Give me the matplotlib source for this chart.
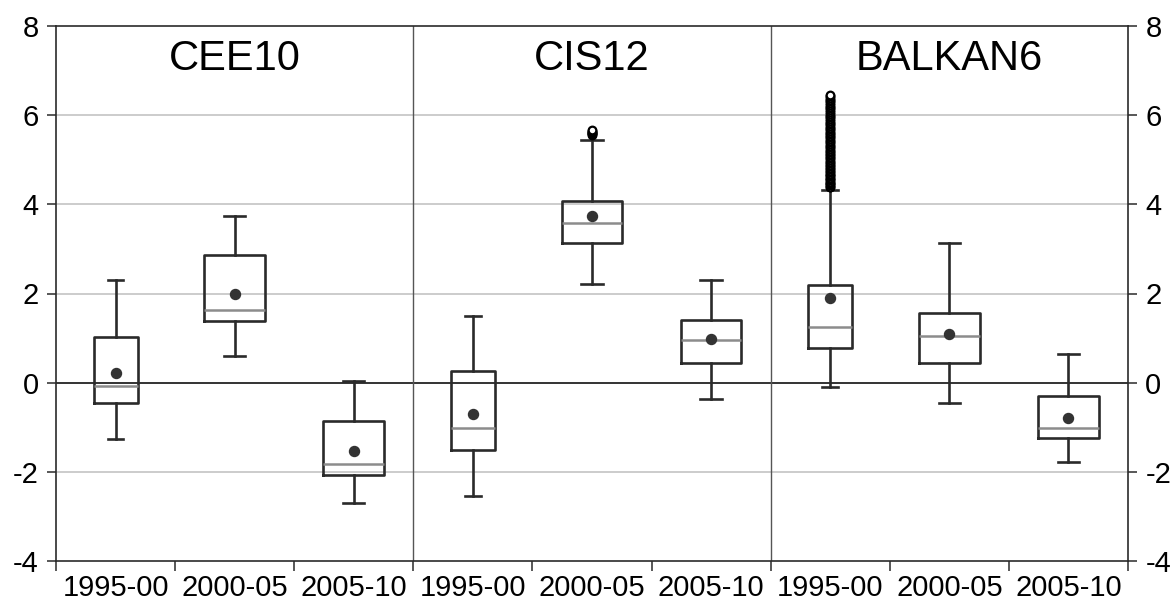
"""
Box plots of three country groups over three sub-periods (EViews style).
"""

import matplotlib
matplotlib.use("Agg")
import matplotlib.pyplot as plt

# ── Data ───────────────────────────────────────────────────────────────────────
GROUPS  = ["CEE10", "CIS12", "BALKAN6"]
PERIODS = ["1995-00", "2000-05", "2005-10"]

# one entry per box, order: group by group, period by period
whis_lo = [-1.26, 0.59, -2.71,   -2.54, 2.21, -0.36,   -0.09, -0.45, -1.77]
q1      = [-0.46, 1.38, -2.06,   -1.50, 3.13,  0.44,    0.77,  0.44, -1.24]
median  = [-0.08, 1.64, -1.83,   -1.02, 3.59,  0.96,    1.25,  1.05, -1.02]
q3      = [ 1.02, 2.86, -0.85,    0.27, 4.08,  1.41,    2.19,  1.57, -0.31]
whis_hi = [ 2.31, 3.74,  0.04,    1.49, 5.44,  2.30,    4.32,  3.14,  0.64]
means   = [ 0.22, 2.00, -1.53,   -0.70, 3.74,  0.99,    1.89,  1.09, -0.79]

outliers_cis_0005 = [5.55, 5.57, 5.59, 5.61, 5.63, 5.65, 5.67]
outliers_balkan_9500 = [
    4.38, 4.40, 4.43, 4.45, 4.48, 4.51, 4.54, 4.57, 4.60, 4.63,
    4.66, 4.69, 4.72, 4.75, 4.79, 4.82, 4.85, 4.89, 4.92, 4.96,
    4.99, 5.03, 5.06, 5.10, 5.13, 5.17, 5.20, 5.24, 5.28, 5.31,
    5.35, 5.39, 5.42, 5.46, 5.50, 5.53, 5.57, 5.61, 5.65, 5.68,
    5.72, 5.76, 5.80, 5.83, 5.87, 5.91, 5.95, 5.99, 6.03, 6.07,
    6.11, 6.15, 6.19, 6.23, 6.27, 6.31, 6.35, 6.39, 6.42, 6.45,
]
fliers = [[], [], [], [], outliers_cis_0005, [], outliers_balkan_9500, [], []]

# ── Style ──────────────────────────────────────────────────────────────────────
DARK   = "#2a2a2a"
MEDCOL = "#8c8c8c"
GRID   = "#cccccc"
FONT   = ["Liberation Sans", "DejaVu Sans"]

plt.rcParams["font.family"] = FONT
plt.rcParams["axes.unicode_minus"] = False


def main():
    n = len(q1)
    positions = list(range(n))
    # 1995-00 boxes are drawn narrower in the original
    widths = [0.37 if i % 3 == 0 else 0.51 for i in range(n)]
    caps   = [0.13 if i % 3 == 0 else 0.18 for i in range(n)]

    stats = []
    for i in range(n):
        stats.append(dict(med=median[i], q1=q1[i], q3=q3[i],
                          whislo=whis_lo[i], whishi=whis_hi[i],
                          mean=means[i], fliers=fliers[i]))

    fig = plt.figure(figsize=(11.74, 6.05), dpi=100)
    ax = fig.add_axes([56 / 1174, 1 - 561 / 605, 1072 / 1174, 535 / 605])

    # grid + zero line + panel separators underneath the boxes
    for y in (-2, 2, 4, 6):
        ax.axhline(y, color=GRID, lw=1.4, zorder=0)
    ax.axhline(0, color="#333333", lw=1.4, zorder=1)
    for x in (2.5, 5.5):
        ax.axvline(x, color="#555555", lw=1.0, zorder=1)

    ax.bxp(stats, positions=positions, widths=widths, capwidths=caps,
           showmeans=True, showfliers=True, patch_artist=False,
           boxprops=dict(color=DARK, lw=1.9),
           whiskerprops=dict(color=DARK, lw=1.9),
           capprops=dict(color=DARK, lw=1.9),
           medianprops=dict(color=MEDCOL, lw=1.8),
           meanprops=dict(marker="o", markersize=7.2, markerfacecolor="#333333",
                          markeredgecolor="#333333"),
           flierprops=dict(marker="o", markersize=5.5, markerfacecolor="white",
                           markeredgecolor="black", markeredgewidth=1.6),
           manage_ticks=False, zorder=3)

    ax.set_xlim(-0.5, n - 0.5)
    ax.set_ylim(-4, 8)

    # panel titles
    for g, name in enumerate(GROUPS):
        ax.text(3 * g + 1, 7.25, name, ha="center", va="center", fontsize=30)

    # x axis: ticks at slot boundaries, labels at slot centres
    ax.set_xticks([i - 0.5 for i in range(n + 1)])
    ax.set_xticklabels([])
    ax.set_xticks(positions, minor=True)
    ax.set_xticklabels(PERIODS * len(GROUPS), minor=True, fontsize=21)
    ax.tick_params(axis="x", which="major", direction="out", length=7,
                   width=1.1, color=DARK)
    ax.tick_params(axis="x", which="minor", length=0, pad=9)

    # y axis on both sides
    ax.set_yticks([-4, -2, 0, 2, 4, 6, 8])
    ax.tick_params(axis="y", direction="out", length=6.5, width=1.1,
                   color=DARK, labelsize=21, pad=6,
                   left=True, right=True, labelleft=True, labelright=True)

    for sp in ax.spines.values():
        sp.set_color(DARK)
        sp.set_linewidth(1.2)

    fig.savefig("out.png", dpi=100)
    plt.close(fig)


if __name__ == "__main__":
    main()
